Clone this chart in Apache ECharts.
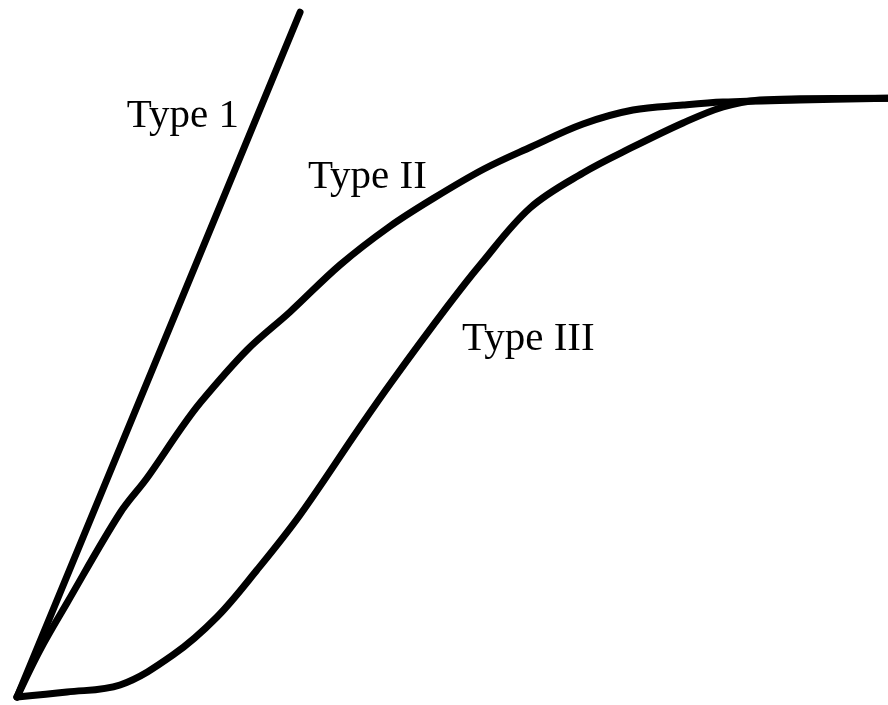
<!DOCTYPE html>
<html>
<head>
<meta charset="utf-8">
<script src="https://cdn.jsdelivr.net/npm/echarts@6/dist/echarts.min.js"></script>
<style>
    html, body {margin: 0; padding: 0; background: #fff;}
    #chart {width: 888px; height: 705px;}
</style>
</head>
<body>
<div id="chart"></div>
<script>
// curves: x = time (0..100), y = response (plateau = 100)
const type1 = [[0, 0], [32.5, 114.7]];
const type2 = [
    [0, 0], [2.64, 7.87], [5.74, 15.75], [11.83, 30.82], [14.93, 36.68],
    [18.71, 44.72], [21.01, 49.25], [26.41, 58.12], [31.34, 64.49], [37.08, 72.36],
    [42.71, 78.73], [47.87, 83.58], [53.61, 88.44], [59.01, 92.13], [64.98, 95.98],
    [70.72, 98.32], [76.46, 99.16], [81.06, 99.66], [89.9, 100], [100, 100.3]
];
const type3 = [
    [0, 0], [5.74, 0.84], [11.83, 2.01], [17.91, 7.04], [22.96, 13.4],
    [27.55, 21.27], [32.49, 30.49], [39.38, 45.23], [43.17, 53.1], [49.37, 65.33],
    [53.16, 72.36], [58.9, 81.91], [64.98, 87.77], [70.72, 92.13],
    [76.46, 96.15], [81.06, 98.83], [85.3, 100], [89.9, 100.2], [100, 100.3]
];
const labels = ['Type 1', 'Type II', 'Type III'];
// label anchor in the same units (left edge, baseline)
const labelPos = [[12.6, 95.1], [33.4, 84.9], [51.1, 57.8]];

const chart = echarts.init(document.getElementById('chart'));

function line(name, data, smooth) {
    return {
        name: name,
        type: 'line',
        data: data,
        smooth: smooth,
        showSymbol: false,
        silent: true,
        clip: false,
        lineStyle: {color: '#000', width: 7, cap: 'round', join: 'round'}
    }
}

chart.setOption({
    backgroundColor: '#fff',
    animation: false,
    grid: {left: 17, right: 0, top: 0, bottom: 8},
    xAxis: {type: 'value', min: 0, max: 100, show: false},
    yAxis: {type: 'value', min: 0, max: 116.75, show: false},
    series: [
        line('Type 1', type1, false),
        line('Type II', type2, 0.35),
        line('Type III', type3, 0.35)
    ]
});

const graphics = labels.map((t, i) => {
    const p = chart.convertToPixel({gridIndex: 0}, labelPos[i]);
    return {
        type: 'text',
        x: p[0],
        y: p[1] - 13,
        style: {
            text: t,
            fill: '#000',
            font: '41px "Liberation Serif", "DejaVu Serif", serif',
            verticalAlign: 'middle',
            align: 'left'
        }
    }
});
chart.setOption({graphic: graphics});
</script>
</body>
</html>
